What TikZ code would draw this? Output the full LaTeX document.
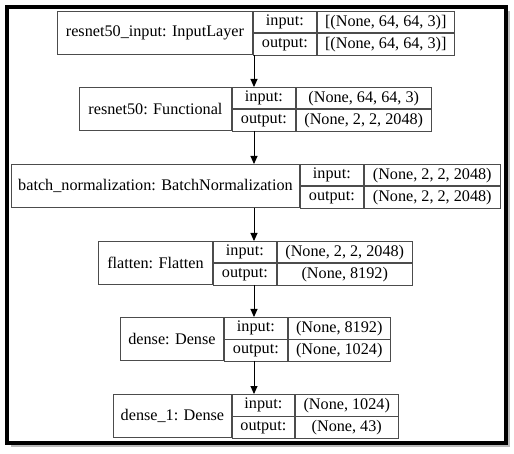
\documentclass[tikz,border=0pt]{standalone}
\usepackage{fontspec}
\setmainfont{Liberation Serif}
\usetikzlibrary{arrows.meta,shadows}
\begin{document}
\begin{tikzpicture}[
    x=1pt, y=-1pt,
    cell/.style={
        rectangle, draw=black!70, line width=0.9pt, anchor=north west,
        inner sep=0pt, font=\fontsize{16.2}{19}\selectfont, text=black
    },
    namecell/.style={cell, minimum height=43pt},
    portcell/.style={cell, minimum height=21.5pt, minimum width=63pt},
    valcell/.style={cell, minimum height=21.5pt},
    arr/.style={-{Triangle[length=8pt,width=7pt]}, line width=0.9pt, black}
]
\useasboundingbox (0,0) rectangle (514,454);

% --- Frame with shadow ---
\node[draw=black, line width=4pt, fill=white, rectangle, inner sep=0pt,
      minimum width=498.5pt, minimum height=435.5pt, anchor=north west,
      drop shadow={shadow xshift=4pt, shadow yshift=-4pt, fill=black!45, opacity=0.6}]
    (frame) at (5,5) {};

\coordinate (axis) at (254,0);

% --- resnet50_input ---
\node[namecell, minimum width=195pt] (resin) at (57,11) {resnet50\_input: InputLayer};
\node[portcell] (resinin) at (resin.north east) {input:};
\node[portcell] (resinout) at (resinin.south west) {output:};
\node[valcell, minimum width=137pt] (resininv) at (resinin.north east) {[(None, 64, 64, 3)]};
\node[valcell, minimum width=137pt] (resinoutv) at (resinout.north east) {[(None, 64, 64, 3)]};

% --- resnet50 ---
\node[namecell, minimum width=152pt] (resnet) at (79,87) {resnet50: Functional};
\node[portcell] (resnetin) at (resnet.north east) {input:};
\node[portcell] (resnetout) at (resnetin.south west) {output:};
\node[valcell, minimum width=135pt] (resnetinv) at (resnetin.north east) {(None, 64, 64, 3)};
\node[valcell, minimum width=135pt] (resnetoutv) at (resnetout.north east) {(None, 2, 2, 2048)};

% --- batch_normalization ---
\node[namecell, minimum width=288pt] (bnorm) at (11,164) {batch\_normalization: BatchNormalization};
\node[portcell] (bnormin) at (bnorm.north east) {input:};
\node[portcell] (bnormout) at (bnormin.south west) {output:};
\node[valcell, minimum width=136pt] (bnorminv) at (bnormin.north east) {(None, 2, 2, 2048)};
\node[valcell, minimum width=136pt] (bnormoutv) at (bnormout.north east) {(None, 2, 2, 2048)};

% --- flatten ---
\node[namecell, minimum width=114pt] (flat) at (98,241) {flatten: Flatten};
\node[portcell] (flatin) at (flat.north east) {input:};
\node[portcell] (flatout) at (flatin.south west) {output:};
\node[valcell, minimum width=135pt] (flatinv) at (flatin.north east) {(None, 2, 2, 2048)};
\node[valcell, minimum width=135pt] (flatoutv) at (flatout.north east) {(None, 8192)};

% --- dense ---
\node[namecell, minimum width=103pt] (dense) at (120,317) {dense: Dense};
\node[portcell] (densein) at (dense.north east) {input:};
\node[portcell] (denseout) at (densein.south west) {output:};
\node[valcell, minimum width=102pt] (denseinv) at (densein.north east) {(None, 8192)};
\node[valcell, minimum width=102pt] (denseoutv) at (denseout.north east) {(None, 1024)};

% --- dense_1 ---
\node[namecell, minimum width=118pt] (denseone) at (113,394) {dense\_1: Dense};
\node[portcell, minimum width=62pt] (denseonein) at (denseone.north east) {input:};
\node[portcell, minimum width=62pt] (denseoneout) at (denseonein.south west) {output:};
\node[valcell, minimum width=103pt] (denseoneinv) at (denseonein.north east) {(None, 1024)};
\node[valcell, minimum width=103pt] (denseoneoutv) at (denseoneout.north east) {(None, 43)};

% --- Arrows ---
\draw[arr] (axis |- resin.south) -- (axis |- resnet.north);
\draw[arr] (axis |- resnet.south) -- (axis |- bnorm.north);
\draw[arr] (axis |- bnorm.south) -- (axis |- flat.north);
\draw[arr] (axis |- flat.south) -- (axis |- dense.north);
\draw[arr] (axis |- dense.south) -- (axis |- denseone.north);

\end{tikzpicture}
\end{document}
